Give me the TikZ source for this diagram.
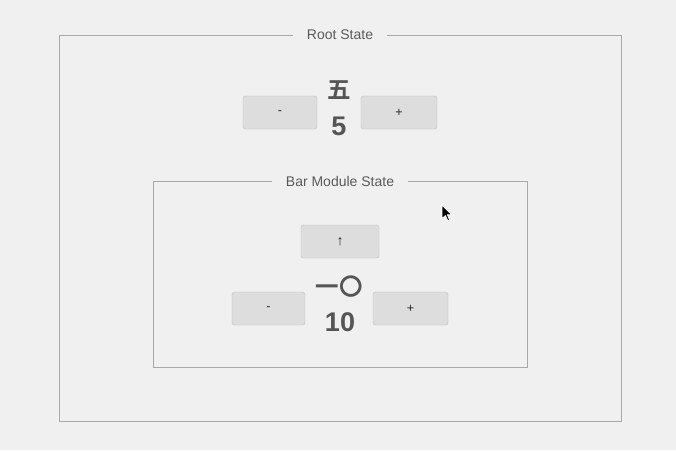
\documentclass[tikz,border=0pt]{standalone}
\usepackage{fontspec}
\setmainfont{Liberation Sans}
\newfontfamily\cjkbold{Noto Sans CJK JP Bold}
\definecolor{bg}{HTML}{F0F0F0}
\definecolor{framegray}{HTML}{A8A8A8}
\definecolor{labelgray}{HTML}{5A5A5A}
\definecolor{btnfill}{HTML}{DDDDDD}
\definecolor{btnborder}{HTML}{C0C0C0}
\definecolor{numgray}{HTML}{555555}
\begin{document}
\begin{tikzpicture}[x=1pt, y=-1pt,
    frame/.style={draw=framegray, line width=0.7pt},
    title/.style={fill=bg, inner xsep=14pt, inner ysep=1pt, text=labelgray,
      font=\fontsize{14}{16}\selectfont},
    btn/.style={draw=btnborder, fill=btnfill, rounded corners=2.5pt,
      minimum height=33pt, inner sep=0pt, text=black!85,
      font=\fontsize{12.5}{14}\selectfont},
    kanji/.style={inner sep=0pt, text=numgray, font=\cjkbold\fontsize{23.5}{26}\selectfont},
    num/.style={inner sep=0pt, text=numgray, font=\bfseries\fontsize{27}{30}\selectfont}]
  \useasboundingbox[fill=bg] (0,0) rectangle (676,450);

  % root state
  \draw[frame] (59,35) rectangle (621,421);
  \node[title] (roottitle) at (340,35) {Root State};
  \node[btn, minimum width=74pt] (rootminus) at (280,112.5) {-};
  \node[btn, minimum width=76pt] (rootplus) at (399,112.5) {+};
  \node[kanji] (rootkanji) at (339,90) {五};
  \node[num] (rootvalue) at (339,126) {5};

  % bar module state
  \draw[frame] (153,181) rectangle (527,367);
  \node[title] (bartitle) at (340,181) {Bar Module State};
  \node[btn, minimum width=78pt, font=\fontsize{14}{16}\selectfont] (barup) at (340,241.5) {↑};
  \node[btn, minimum width=73pt] (barminus) at (268.5,308.5) {-};
  \node[btn, minimum width=75pt] (barplus) at (410.5,308.5) {+};
  \node[kanji] (barkanji) at (339,286.5) {一〇};
  \node[num] (barvalue) at (340,322) {10};

  % mouse pointer
  \begin{scope}[shift={(442,205)}, scale=0.85]
    \draw[fill=black, draw=white, line width=0.8pt, line join=round]
      (0,0) -- (0,16) -- (4,12.5) -- (6.8,18.5) -- (9,17.5) -- (6.3,11.5) -- (11.5,11.5) -- cycle;
  \end{scope}
\end{tikzpicture}
\end{document}
